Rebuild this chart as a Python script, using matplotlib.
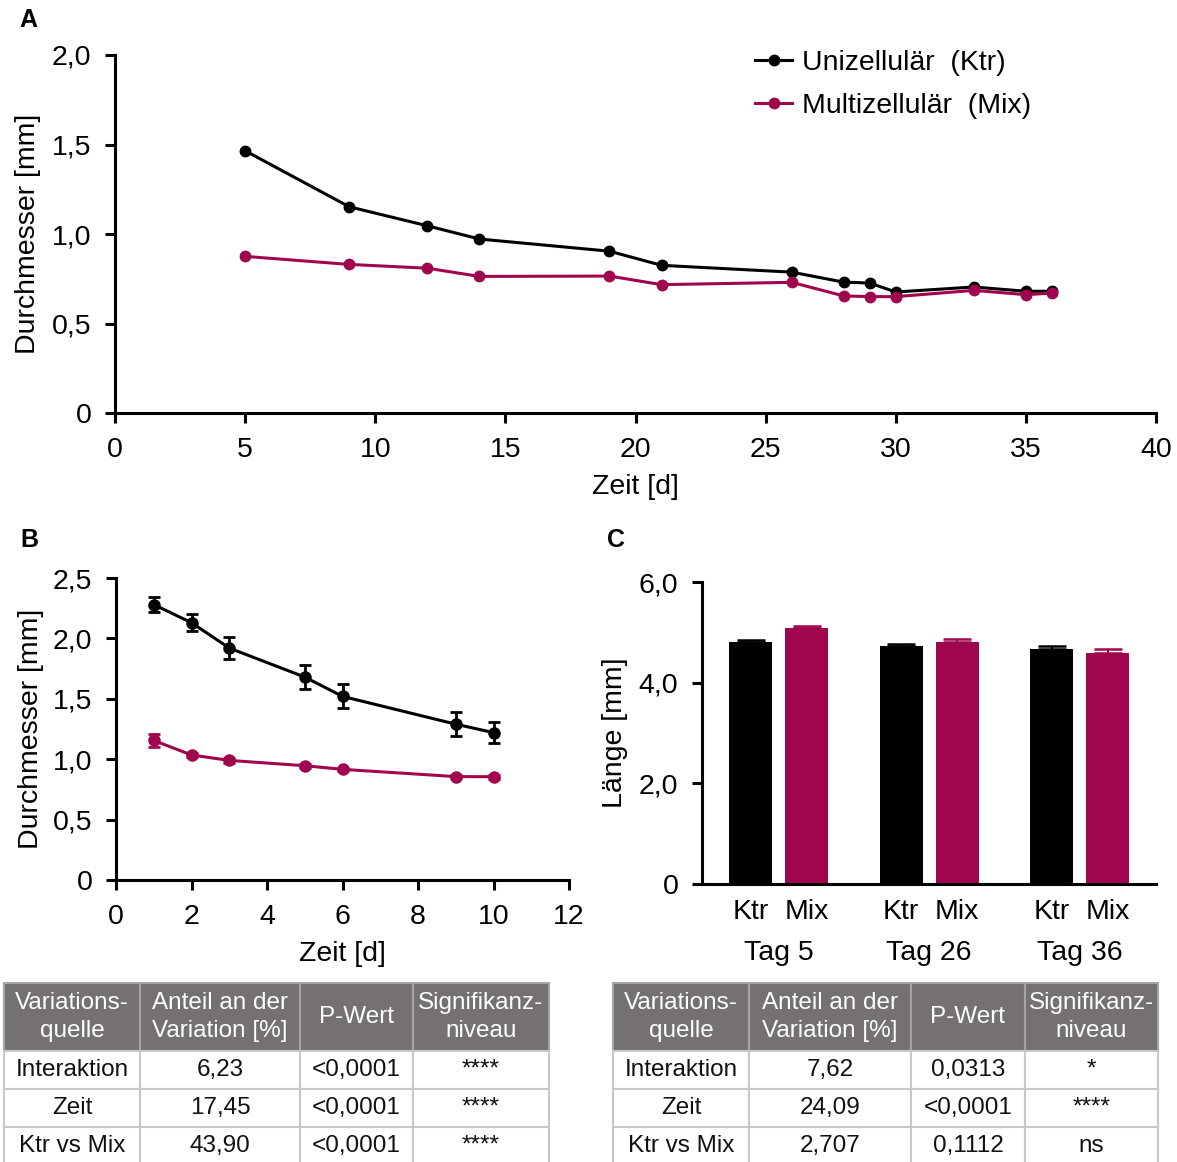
import matplotlib
matplotlib.use("Agg")
import matplotlib.pyplot as plt
from matplotlib.ticker import FuncFormatter
from matplotlib.lines import Line2D

plt.rcParams['font.family'] = ['Liberation Sans', 'DejaVu Sans']

KTR_COLOR = '#000000'
MIX_COLOR = '#A0064E'
HEADER_COLOR = '#767171'
GRID_COLOR = '#C8C8C8'

# Panel A: diameter over the whole culture period
days_a = [5, 9, 12, 14, 19, 21, 26, 28, 29, 30, 33, 35, 36]
ktr_a = [1.465, 1.152, 1.046, 0.972, 0.904, 0.825, 0.787, 0.731, 0.726, 0.676, 0.704, 0.680, 0.680]
mix_a = [0.875, 0.830, 0.809, 0.763, 0.765, 0.717, 0.730, 0.654, 0.650, 0.650, 0.685, 0.661, 0.670]

# Panel B: diameter during the first days (mean +/- SEM)
days_b = [1, 2, 3, 5, 6, 9, 10]
ktr_b = [2.28, 2.13, 1.92, 1.68, 1.52, 1.29, 1.22]
ktr_b_err = [0.06, 0.07, 0.09, 0.10, 0.10, 0.10, 0.09]
mix_b = [1.155, 1.035, 0.99, 0.946, 0.916, 0.856, 0.855]
mix_b_err = [0.05, 0.02, 0.02, 0.015, 0.015, 0.015, 0.015]

# Panel C: length at three time points
tage = ['Tag 5', 'Tag 26', 'Tag 36']
ktr_c = [4.81, 4.73, 4.67]
ktr_c_err = [0.03, 0.04, 0.06]
mix_c = [5.09, 4.81, 4.58]
mix_c_err = [0.04, 0.05, 0.08]

# Two-way ANOVA summaries
tab_header = ['Variations-\nquelle', 'Anteil an der\nVariation [%]', 'P-Wert', 'Signifikanz-\nniveau']
tab_b_rows = [['Interaktion', '6,23', '<0,0001', '****'],
              ['Zeit', '17,45', '<0,0001', '****'],
              ['Ktr vs Mix', '43,90', '<0,0001', '****']]
tab_c_rows = [['Interaktion', '7,62', '0,0313', '*'],
              ['Zeit', '24,09', '<0,0001', '****'],
              ['Ktr vs Mix', '2,707', '0,1112', 'ns']]

labels = ['Unizellulär  (Ktr)', 'Multizellulär  (Mix)']

W, H = 1177, 1162
fig = plt.figure(figsize=(W / 100, H / 100), dpi=100)

FS = 20.5


def px_axes(x0, y0, x1, y1):
    """Axes from pixel box (left, top, right, bottom)."""
    return fig.add_axes([x0 / W, 1 - y1 / H, (x1 - x0) / W, (y1 - y0) / H])


def comma(v, pos):
    if abs(v) < 1e-9:
        return '0'
    return f'{v:.1f}'.replace('.', ',')


def style(ax):
    for s in ('top', 'right'):
        ax.spines[s].set_visible(False)
    for s in ('left', 'bottom'):
        ax.spines[s].set_linewidth(2.2)
    ax.tick_params(direction='out', length=7, width=2.2, labelsize=FS, pad=10)
    ax.patch.set_alpha(0)


# ---- Panel A ----
axA = px_axes(115, 55, 1156, 413)
axA.plot(days_a, ktr_a, '-o', color=KTR_COLOR, lw=2.2, ms=7.5, clip_on=False)
axA.plot(days_a, mix_a, '-o', color=MIX_COLOR, lw=2.2, ms=7.5, clip_on=False)
axA.set_xlim(0, 40)
axA.set_ylim(0, 2.0)
axA.set_xticks(range(0, 41, 5))
axA.set_yticks([0, 0.5, 1.0, 1.5, 2.0])
axA.yaxis.set_major_formatter(FuncFormatter(comma))
style(axA)
axA.set_xlabel('Zeit [d]', fontsize=FS, labelpad=8)
axA.set_ylabel('Durchmesser [mm]', fontsize=FS, labelpad=8)

handles = [Line2D([], [], color=KTR_COLOR, lw=2.2, marker='o', ms=7.5),
           Line2D([], [], color=MIX_COLOR, lw=2.2, marker='o', ms=7.5)]
fig.legend(handles, labels, loc='upper left', bbox_to_anchor=(755 / W, 1 - 50 / H),
           frameon=False, fontsize=FS, handlelength=1.3, handletextpad=0.35,
           labelspacing=0.58, borderpad=0, borderaxespad=0)

# ---- Panel B ----
axB = px_axes(116, 578, 569, 880)
axB.errorbar(days_b, ktr_b, yerr=ktr_b_err, fmt='-o', color=KTR_COLOR, lw=2.2, ms=8,
             elinewidth=2.0, capsize=4, capthick=2.0, clip_on=False)
axB.errorbar(days_b, mix_b, yerr=mix_b_err, fmt='-o', color=MIX_COLOR, lw=2.2, ms=8,
             elinewidth=2.0, capsize=4, capthick=2.0, clip_on=False)
axB.set_xlim(0, 12)
axB.set_ylim(0, 2.5)
axB.set_xticks(range(0, 13, 2))
axB.set_yticks([0, 0.5, 1.0, 1.5, 2.0, 2.5])
axB.yaxis.set_major_formatter(FuncFormatter(comma))
style(axB)
axB.set_xlabel('Zeit [d]', fontsize=FS, labelpad=8)
axB.set_ylabel('Durchmesser [mm]', fontsize=FS, labelpad=6)

# ---- Panel C ----
axC = px_axes(702, 582, 1156, 884)
group_step = 2.687
bar_w = 0.77
centers = [i * group_step for i in range(len(tage))]
ktr_x = [c - 0.5 for c in centers]
mix_x = [c + 0.5 for c in centers]
axC.bar(ktr_x, ktr_c, width=bar_w, color=KTR_COLOR)
axC.bar(mix_x, mix_c, width=bar_w, color=MIX_COLOR)
axC.errorbar(ktr_x, ktr_c, yerr=[[0] * 3, ktr_c_err], fmt='none', ecolor=KTR_COLOR,
             elinewidth=1.5, capsize=10, capthick=1.8)
axC.errorbar(mix_x, mix_c, yerr=[[0] * 3, mix_c_err], fmt='none', ecolor=MIX_COLOR,
             elinewidth=1.5, capsize=10, capthick=1.8)
axC.set_xlim(-1.367, 6.733)
axC.set_ylim(0, 6.0)
axC.set_yticks([0, 2.0, 4.0, 6.0])
axC.yaxis.set_major_formatter(FuncFormatter(comma))
style(axC)
tick_pos = sorted(ktr_x + mix_x)
axC.set_xticks(tick_pos)
axC.set_xticklabels(['Ktr', 'Mix'] * 3)
axC.tick_params(axis='x', length=0, pad=11)
for c, t in zip(centers, tage):
    axC.text(c, -0.228, t, transform=axC.get_xaxis_transform(), ha='center', va='center',
             fontsize=FS)
axC.set_ylabel('Länge [mm]', fontsize=FS, labelpad=8)

# ---- Panel letters ----
for letter, (x, y) in {'A': (28, 20), 'B': (29, 540), 'C': (616, 540)}.items():
    fig.text(x / W, 1 - y / H, letter, fontsize=18, fontweight='bold', ha='center', va='center')


# ---- Tables ----
def draw_table(x_edges, rows):
    x0, x1 = x_edges[0], x_edges[-1]
    ax = px_axes(x0, 983, x1, 983 + 68 + 3 * 38)
    ax.axis('off')
    widths = [x_edges[i + 1] - x_edges[i] for i in range(len(x_edges) - 1)]
    tbl = ax.table(cellText=rows, colLabels=tab_header, colWidths=widths,
                   cellLoc='center', bbox=[0, 0, 1, 1])
    tbl.auto_set_font_size(False)
    for (r, c), cell in tbl.get_celld().items():
        cell.set_linewidth(1.5)
        cell.set_height(68 if r == 0 else 38)
        cell.get_text().set_fontsize(17.5)
        if r == 0:
            cell.set_facecolor(HEADER_COLOR)
            cell.set_edgecolor('#A6A3A3')
            cell.get_text().set_color('white')
            cell.get_text().set_linespacing(1.4)
        else:
            cell.set_facecolor('white')
            cell.set_edgecolor(GRID_COLOR)
            cell.get_text().set_color('#111111')
    return tbl


draw_table([4, 140, 300, 413, 549], tab_b_rows)
draw_table([613, 749, 911, 1025, 1158], tab_c_rows)

fig.savefig('out.png', dpi=100)
